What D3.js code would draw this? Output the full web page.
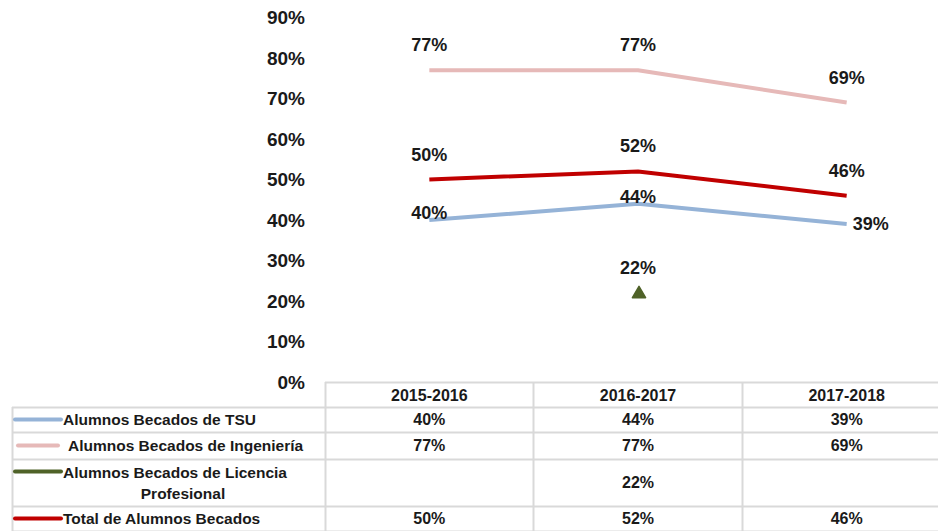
<!DOCTYPE html>
<html>
	<head>
		<meta charset="utf-8">
		<title>Alumnos Becados</title>
		<script src="https://cdn.jsdelivr.net/npm/d3@7"></script>
		<style>
			body { margin: 0; background: #fff; }
			text { font-family: "Liberation Sans", Arial, sans-serif; font-weight: bold; fill: #1a1a1a; }
		</style>
	</head>
	<body>
		<div id="root"></div>
		<script>
			//periods on the x axis
			const categories = ["2015-2016", "2016-2017", "2017-2018"];

			//series values, null where there is no data
			const tsu = [0.40, 0.44, 0.39];
			const ingenieria = [0.77, 0.77, 0.69];
			const licencia = [null, 0.22, null];
			const total = [0.50, 0.52, 0.46];

			const seriesNames = [
				"Alumnos Becados de TSU",
				"Alumnos Becados de Ingeniería",
				"Alumnos Becados de Licencia Profesional",
				"Total de Alumnos Becados"
			];

			const yTicks = [0, 0.1, 0.2, 0.3, 0.4, 0.5, 0.6, 0.7, 0.8, 0.9];

			const width = 938;
			const height = 531;

			//series drawing order and look
			const series = [
				{name: seriesNames[1], values: ingenieria, color: "#E6B9B8", label: "above"},
				{name: seriesNames[3], values: total, color: "#C00000", label: "above"},
				{name: seriesNames[0], values: tsu, color: "#95B3D7", label: "near"},
				{name: seriesNames[2], values: licencia, color: "#4F6228", label: "above", marker: true}
			];

			//table rows go in legend order
			const tableRows = [
				{name: seriesNames[0], values: tsu, color: "#95B3D7"},
				{name: seriesNames[1], values: ingenieria, color: "#E6B9B8"},
				{name: seriesNames[2], values: licencia, color: "#4F6228"},
				{name: seriesNames[3], values: total, color: "#C00000"}
			];

			const svg = d3.select("#root")
				.append("svg")
				.attr("width", width)
				.attr("height", height);

			//x positions = table columns
			const x = d3.scaleBand()
				.domain(categories)
				.range([325, 951]);

			const cx = (c) => x(c) + x.bandwidth() / 2;

			const y = d3.scaleLinear()
				.domain([0, 0.9])
				.range([382, 17.5]);

			//y axis, labels only
			const yAxis = d3.axisLeft(y)
				.tickValues(yTicks)
				.tickFormat(d3.format(".0%"))
				.tickSize(0)
				.tickPadding(3);

			const gy = svg.append("g")
				.attr("transform", "translate(308,0)")
				.call(yAxis);
			gy.select(".domain").remove();
			gy.selectAll("text")
				.attr("font-size", 19)
				.attr("font-family", null)
				.attr("fill", "#1a1a1a");

			const fmt = d3.format(".0%");

			//lines
			const line = d3.line()
				.defined((d) => d.v != null)
				.x((d) => cx(d.c))
				.y((d) => y(d.v));

			series.forEach(function(s){
				const pts = categories.map((c, i) => ({c: c, v: s.values[i]}));
				svg.append("path")
					.datum(pts)
					.attr("d", line)
					.attr("fill", "none")
					.attr("stroke", s.color)
					.attr("stroke-width", 4)
					.attr("stroke-linejoin", "round");

				if (s.marker) {
					svg.selectAll(null)
						.data(pts.filter((d) => d.v != null))
						.enter()
						.append("path")
						.attr("d", d3.symbol().type(d3.symbolTriangle).size(75))
						.attr("transform", (d) => "translate(" + (cx(d.c) + 1) + "," + (y(d.v) + 1) + ")")
						.attr("fill", s.color)
						.attr("stroke", s.color)
						.attr("stroke-width", 1.5)
						.attr("stroke-linejoin", "round");
				}

				//data labels
				svg.selectAll(null)
					.data(pts.filter((d) => d.v != null))
					.enter()
					.append("text")
					.attr("font-size", 18)
					.attr("x", (d, i) => {
						if (s.label == "near" && i == 2) return cx(d.c) + 6;
						return cx(d.c);
					})
					.attr("y", (d, i) => {
						if (s.label == "near") return i == 2 ? y(d.v) + 6 : y(d.v) - 1;
						return y(d.v) - 19;
					})
					.attr("text-anchor", (d, i) => (s.label == "near" && i == 2) ? "start" : "middle")
					.text((d) => fmt(d.v));
			});

			//data table
			const rowTops = [382, 407, 432, 459, 506, 531];
			const grid = "#D9D9D9";
			const tbl = svg.append("g");

			//horizontal lines
			rowTops.forEach(function(ry, i){
				tbl.append("line")
					.attr("x1", i == 0 ? 325 : 12)
					.attr("x2", width)
					.attr("y1", ry + 0.5)
					.attr("y2", ry + 0.5)
					.attr("stroke", grid)
					.attr("stroke-width", 2);
			});

			//vertical lines
			[12, 325, 533, 742].forEach(function(vx){
				tbl.append("line")
					.attr("x1", vx + 0.5)
					.attr("x2", vx + 0.5)
					.attr("y1", vx == 12 ? 407 : 382)
					.attr("y2", height)
					.attr("stroke", grid)
					.attr("stroke-width", 2);
			});

			//header
			tbl.selectAll(null)
				.data(categories)
				.enter()
				.append("text")
				.attr("font-size", 16)
				.attr("x", (d) => cx(d))
				.attr("y", 401)
				.attr("text-anchor", "middle")
				.text((d) => d);

			//rows
			tableRows.forEach(function(r, ri){
				const top = rowTops[ri + 1];
				const bot = rowTops[ri + 2];
				const mid = (top + bot) / 2;
				const keyY = ri == 2 ? mid - 11 : mid;

				tbl.append("line")
					.attr("x1", ri == 1 ? 18 : 15)
					.attr("x2", ri == 1 ? 58 : 61)
					.attr("y1", keyY)
					.attr("y2", keyY)
					.attr("stroke", r.color)
					.attr("stroke-width", 4)
					.attr("stroke-linecap", "round");

				if (ri == 2) {
					tbl.append("text")
						.attr("font-size", 15.5)
						.attr("x", 63)
						.attr("y", mid - 5)
						.text("Alumnos Becados de Licencia");
					tbl.append("text")
						.attr("font-size", 15.5)
						.attr("x", 183)
						.attr("y", mid + 16)
						.attr("text-anchor", "middle")
						.text("Profesional");
				} else {
					tbl.append("text")
						.attr("font-size", 15.5)
						.attr("x", ri == 1 ? 68 : 63)
						.attr("y", mid + 5.5)
						.text(r.name);
				}

				tbl.selectAll(null)
					.data(categories.map((c, i) => ({c: c, v: r.values[i]})).filter((d) => d.v != null))
					.enter()
					.append("text")
					.attr("font-size", 16)
					.attr("x", (d) => cx(d.c))
					.attr("y", mid + 5.5)
					.attr("text-anchor", "middle")
					.text((d) => fmt(d.v));
			});
		</script>
	</body>
</html>
